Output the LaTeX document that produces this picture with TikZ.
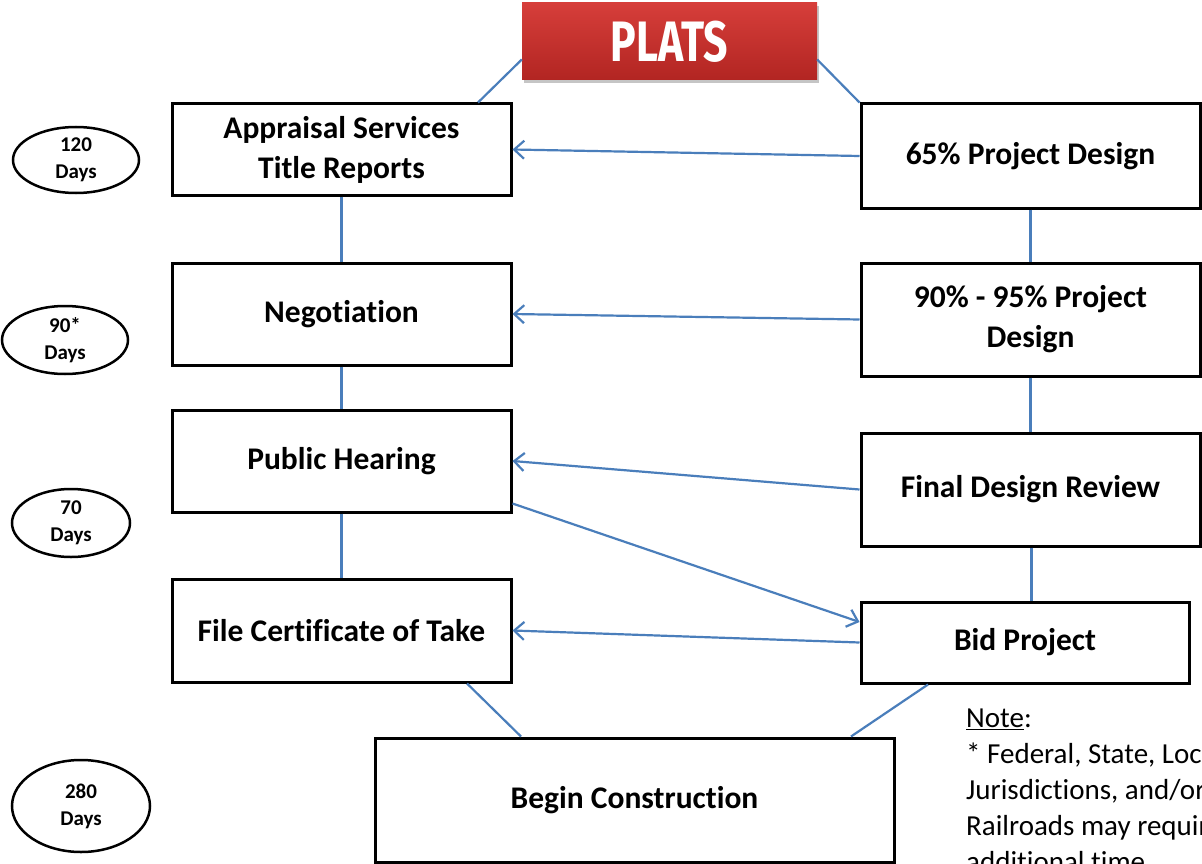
\documentclass[tikz,border=0pt]{standalone}
\usepackage{fontspec}
\setmainfont{Carlito}[Ligatures=NoCommon]
\newfontfamily\platsfont{Fira Sans}
\usetikzlibrary{shapes.geometric,shadows,arrows.meta}
\definecolor{conn}{HTML}{4A7EBB}
\definecolor{platstop}{HTML}{D63E3A}
\definecolor{platsbot}{HTML}{B22522}
\begin{document}
\begin{tikzpicture}[x=1pt,y=-1pt,
  box/.style={draw=black,line width=3pt,fill=white,align=center,inner sep=0pt,
    font=\fontsize{31.5}{40}\selectfont\bfseries},
  days/.style={draw=black,ellipse,line width=2.5pt,fill=white,align=center,inner sep=0pt,
    font=\fontsize{21}{27}\selectfont\bfseries},
  platsbox/.style={rectangle,top color=platstop,bottom color=platsbot,draw=none,
    drop shadow={opacity=0.45,shadow xshift=2pt,shadow yshift=-3pt},
    text=white,font=\platsfont\fontsize{57}{60}\selectfont\bfseries},
  link/.style={draw=conn,line width=2.2pt},
  arr/.style={link,-{Straight Barb[length=10pt,width=18pt,line width=2.2pt]}}]
\clip (0,0) rectangle (1202,864);
\fill[white] (0,0) rectangle (1202,864);

\node[platsbox,minimum width=295pt,minimum height=77pt] (plats) at (669.5,41.5) {\scalebox{0.75}[1]{PLATS}};

\node[box,minimum width=339pt,minimum height=91pt]  (app)  at (341.5,149.5) {Appraisal Services\\Title Reports};
\node[box,minimum width=339pt,minimum height=104pt] (p65)  at (1030.5,156) {65\% Project Design};
\node[box,minimum width=339pt,minimum height=102pt] (neg)  at (341.5,314) {Negotiation};
\node[box,minimum width=339pt,minimum height=113pt] (p90)  at (1030.5,319.5) {90\% - 95\% Project\\Design};
\node[box,minimum width=339pt,minimum height=102pt] (pub)  at (341.5,461) {Public Hearing};
\node[box,minimum width=339pt,minimum height=113pt] (fin)  at (1030.5,489.5) {Final Design Review};
\node[box,minimum width=339pt,minimum height=103pt] (file) at (341.5,630.5) {File Certificate of Take};
\node[box,minimum width=328pt,minimum height=81pt]  (bid)  at (1025,642.5) {Bid Project};
\node[box,minimum width=519pt,minimum height=124pt] (beg)  at (634.5,800) {Begin Construction};

\node[days,minimum width=126pt,minimum height=66pt] (e120) at (76,160) {120\\Days};
\node[days,minimum width=126pt,minimum height=68pt] (e90)  at (65,340) {90*\\Days};
\node[days,minimum width=118pt,minimum height=68pt] (e70)  at (71,523) {70\\Days};
\node[days,minimum width=138pt,minimum height=92pt] (e280) at (81,806) {280\\Days};

\node[anchor=north west,align=left,inner sep=0pt,font=\fontsize{29}{36}\selectfont] (note) at (966,709)
  {\underline{Note}:\\* Federal, State, Local\\Jurisdictions, and/or\\Railroads may require\\additional time.};

% connectors
\draw[link] ([yshift=-18pt]plats.west) -- ([xshift=136.5pt]app.north);
\draw[link] ([yshift=-18pt]plats.east) -- (p65.north west);
\draw[link] (app.south) -- (neg.north);
\draw[link] (neg.south) -- (pub.north);
\draw[link] (pub.south) -- (file.north);
\draw[link] (p65.south) -- (p90.north);
\draw[link] (p90.south) -- (fin.north);
\draw[link] ([xshift=1pt]fin.south) -- ([xshift=6.5pt]bid.north);
\draw[arr] (p65.west) -- (app.east);
\draw[arr] (p90.west) -- (neg.east);
\draw[arr] (fin.west) -- (pub.east);
\draw[arr] ([yshift=10pt]pub.south east) -- ([yshift=20.5pt]bid.west);
\draw[arr] (bid.west) -- (file.east);
\draw[link] ([xshift=125.5pt]file.south) -- ([xshift=-113.5pt]beg.north);
\draw[link] ([xshift=-97pt]bid.south) -- ([xshift=216.5pt]beg.north);
\end{tikzpicture}
\end{document}
